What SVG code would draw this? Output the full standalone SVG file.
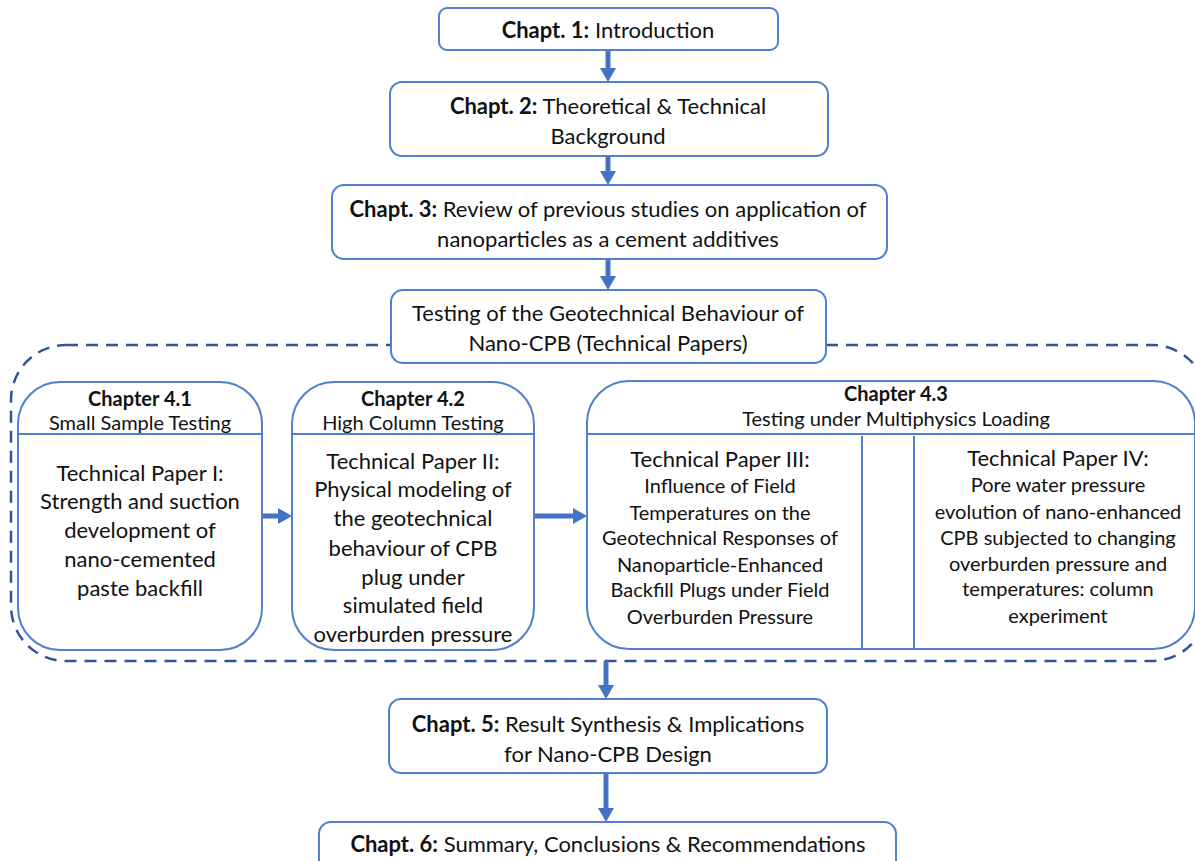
<svg xmlns="http://www.w3.org/2000/svg" width="1195" height="861" viewBox="0 0 1195 861">
<style>
.box{fill:#fff;stroke:#4F7FCF;stroke-width:2}
.ln{stroke:#4F7FCF;stroke-width:2;fill:none}
.dash{fill:none;stroke:#2F5597;stroke-width:2.5;stroke-dasharray:12 8}
.arr{stroke:#4472C4;stroke-width:5;fill:none}
.ah{fill:#4472C4}
text{font-family:"Lato","Liberation Sans",sans-serif;fill:#111;text-anchor:middle;dominant-baseline:central}
.t{font-size:22px}
.s{font-size:20px}
.b{font-weight:bold}
</style>
<rect class="dash" x="11" y="345" width="1196" height="316" rx="55"/>
<g id="connectors">
<line class="arr" x1="608" y1="50" x2="608" y2="70"/><polygon class="ah" points="600,68 616,68 608,82"/>
<line class="arr" x1="608" y1="156" x2="608" y2="173"/><polygon class="ah" points="600,171 616,171 608,185"/>
<line class="arr" x1="608" y1="259" x2="608" y2="278"/><polygon class="ah" points="600,276 616,276 608,290"/>
<line class="arr" x1="262" y1="516" x2="280" y2="516"/><polygon class="ah" points="278,508 278,524 292,516"/>
<line class="arr" x1="534" y1="516" x2="575" y2="516"/><polygon class="ah" points="573,508 573,524 587,516"/>
<line class="arr" x1="862" y1="518" x2="902" y2="518"/><polygon class="ah" points="900,510 900,526 914,518"/>
<line class="arr" x1="606" y1="661" x2="606" y2="687"/><polygon class="ah" points="598,685 614,685 606,699"/>
<line class="arr" x1="606" y1="773" x2="606" y2="810"/><polygon class="ah" points="598,808 614,808 606,822"/>
</g>
<g id="ch1"><rect class="box" x="439" y="8" width="339" height="42" rx="8"/>
<text class="t" x="608" y="29"><tspan class="b">Chapt. 1:</tspan> Introduction</text></g>
<g id="ch2"><rect class="box" x="390" y="82" width="438" height="74" rx="12"/>
<text class="t" x="608" y="105"><tspan class="b">Chapt. 2:</tspan> Theoretical &amp; Technical</text>
<text class="t" x="608" y="135">Background</text></g>
<g id="ch3"><rect class="box" x="332" y="185" width="555" height="74" rx="12"/>
<text class="t" x="608" y="208"><tspan class="b">Chapt. 3:</tspan> Review of previous studies on application of</text>
<text class="t" x="608" y="238">nanoparticles as a cement additives</text></g>
<g id="testing"><rect class="box" x="391" y="290" width="435" height="73" rx="12"/>
<text class="t" x="608" y="312">Testing of the Geotechnical Behaviour of</text>
<text class="t" x="608" y="342">Nano-CPB (Technical Papers)</text></g>
<g id="ch41"><rect class="box" x="18" y="382" width="244" height="268" rx="42"/>
<line class="ln" x1="18" y1="434" x2="262" y2="434"/>
<text class="s b" x="140" y="398">Chapter 4.1</text>
<text class="s" x="140" y="422">Small Sample Testing</text>
<text class="t" x="140" y="472">Technical Paper I:</text>
<text class="t" x="140" y="500">Strength and suction</text>
<text class="t" x="140" y="529">development of</text>
<text class="t" x="140" y="558">nano-cemented</text>
<text class="t" x="140" y="587">paste backfill</text></g>
<g id="ch42"><rect class="box" x="292" y="382" width="242" height="268" rx="42"/>
<line class="ln" x1="292" y1="434" x2="534" y2="434"/>
<text class="s b" x="413" y="398">Chapter 4.2</text>
<text class="s" x="413" y="422">High Column Testing</text>
<text class="t" x="413" y="460">Technical Paper II:</text>
<text class="t" x="413" y="488">Physical modeling of</text>
<text class="t" x="413" y="517">the geotechnical</text>
<text class="t" x="413" y="547">behaviour of CPB</text>
<text class="t" x="413" y="576">plug under</text>
<text class="t" x="413" y="604">simulated field</text>
<text class="t" x="413" y="633">overburden pressure</text></g>
<g id="ch43"><rect class="box" x="587" y="381" width="608" height="268" rx="42"/>
<line class="ln" x1="587" y1="434" x2="1195" y2="434"/>
<line class="ln" x1="862" y1="436" x2="862" y2="649"/>
<line class="ln" x1="914" y1="436" x2="914" y2="649"/>
<text class="s b" x="896" y="393">Chapter 4.3</text>
<text class="s" x="896" y="418">Testing under Multiphysics Loading</text>
<text class="t" x="720" y="458">Technical Paper III:</text>
<text class="s" x="720" y="485">Influence of Field</text>
<text class="s" x="720" y="512">Temperatures on the</text>
<text class="s" x="720" y="537">Geotechnical Responses of</text>
<text class="s" x="720" y="564">Nanoparticle-Enhanced</text>
<text class="s" x="720" y="589">Backfill Plugs under Field</text>
<text class="s" x="720" y="616">Overburden Pressure</text>
<text class="t" x="1058" y="457">Technical Paper IV:</text>
<text class="s" x="1058" y="484">Pore water pressure</text>
<text class="s" x="1058" y="511">evolution of nano-enhanced</text>
<text class="s" x="1058" y="537">CPB subjected to changing</text>
<text class="s" x="1058" y="563">overburden pressure and</text>
<text class="s" x="1058" y="588">temperatures: column</text>
<text class="s" x="1058" y="615">experiment</text></g>
<g id="ch5"><rect class="box" x="389" y="699" width="438" height="74" rx="12"/>
<text class="t" x="608" y="723"><tspan class="b">Chapt. 5:</tspan> Result Synthesis &amp; Implications</text>
<text class="t" x="608" y="753">for Nano-CPB Design</text></g>
<g id="ch6"><rect class="box" x="319" y="822" width="577" height="60" rx="12"/>
<text class="t" x="608" y="843"><tspan class="b">Chapt. 6:</tspan> Summary, Conclusions &amp; Recommendations</text></g>
</svg>
